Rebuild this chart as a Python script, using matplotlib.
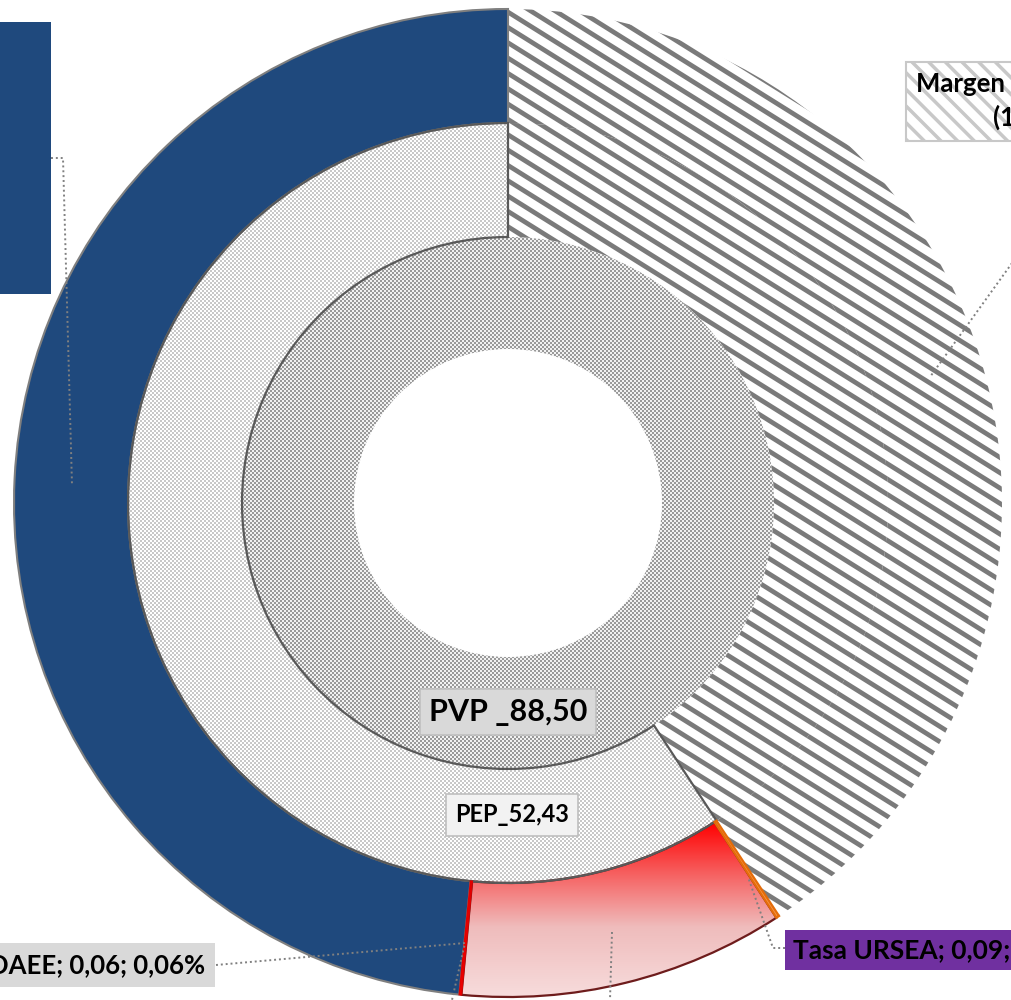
import numpy as np
import matplotlib
matplotlib.use("Agg")
import matplotlib.pyplot as plt
from matplotlib.collections import LineCollection
from matplotlib.colors import LinearSegmentedColormap, to_rgb
from matplotlib.patches import Rectangle

plt.rcParams["font.family"] = ["Lato", "DejaVu Sans"]
plt.rcParams["hatch.linewidth"] = 2.5

# --- datos ---
pvp = 88.50
pep = 52.43
inner_values = [pvp]
middle_values = [pvp - pep, pep]          # margen | PEP
outer_names = ["Margen", "Tasa URSEA", "Rojo", "DAEE", "Azul"]
outer_values = [36.07, 0.09, 9.42, 0.06, 42.86]
outer_faces = ["white", "#f79646", "none", "#ff0000", "#1f497d"]
outer_edges = ["#7f7f7f", "#e46c0a", "#6e1c1c", "#e00000", "#7f7f7f"]
outer_lw = [0, 1.6, 1.6, 1.2, 1.5]

pvp_label = "PVP _88,50"
pep_label = "PEP_52,43"
margen_label = "Margen distribuidores; 36,07;\n(1); 40,76% PVP"
ursea_label = "Tasa URSEA; 0,09; 0,10%"
daee_label = "DAEE; 0,06; 0,06%"

W, H = 1012, 1000
cx, cy = 508, H - 503
r_out, r_mid, r_in, r_hole = 494, 380, 266, 154


def py(y):
    # fila de pixel -> y de datos
    return H - y


fig = plt.figure(figsize=(W / 100, H / 100), dpi=100)
ax = fig.add_axes([0, 0, 1, 1])

pie_kw = dict(center=(cx, cy), startangle=90, counterclock=False)

# anillo interior (PVP)
w_in, _ = ax.pie(inner_values, radius=r_in,
                 wedgeprops=dict(width=r_in - r_hole, lw=0, fc="none"), **pie_kw)
# anillo medio (margen | PEP)
w_mid, _ = ax.pie(middle_values, radius=r_mid,
                  wedgeprops=dict(width=r_mid - r_in), **pie_kw)
w_mid[0].set(fc="white", ec="#7f7f7f", lw=0, zorder=1)
w_mid[1].set(fc="none", ec="#595959", lw=1.6, zorder=2.2)
# anillo exterior
w_out, _ = ax.pie(outer_values, radius=r_out,
                  wedgeprops=dict(width=r_out - r_mid), **pie_kw)
for w, fc, ec, lw in zip(w_out, outer_faces, outer_edges, outer_lw):
    w.set(fc=fc, ec=ec, lw=lw, zorder=2)
w_out[0].set(zorder=1)
w_out[1].set(zorder=2.4)
w_out[3].set(zorder=2.3)

# tramas tipo "cuadriculado"
yy, xx = np.mgrid[0:H, 0:W]
chk = ((yy // 2 + xx // 2) % 2) == 0


def checker(c1, c2):
    a = np.empty((H, W, 3))
    a[chk] = to_rgb(c1)
    a[~chk] = to_rgb(c2)
    return a


im = ax.imshow(checker("#9a9a9a", "#f2f2f2"), extent=(0, W, 0, H), origin="upper",
               interpolation="nearest", zorder=1.5)
im.set_clip_path(w_in[0])
im = ax.imshow(checker("#c8c8c8", "#ffffff"), extent=(0, W, 0, H), origin="upper",
               interpolation="nearest", zorder=1.5)
im.set_clip_path(w_mid[1])

# rayado diagonal del margen
ang = np.deg2rad(32)
d = np.array([np.cos(ang), -np.sin(ang)])
n = np.array([np.sin(ang), np.cos(ang)])
segs = [[s * n - 2500 * d, s * n + 2500 * d] for s in np.arange(-2000, 2000, 13.0)]
for w in (w_out[0], w_mid[0]):
    lc = LineCollection(segs, colors="#7a7a7a", linewidths=3.4, zorder=1.6)
    ax.add_collection(lc)
    lc.set_clip_path(w)

# degradado del tramo rojo
ext = w_out[2].get_path().get_extents()
rojo = LinearSegmentedColormap.from_list(
    "rojo", [(0, "#ff0000"), (0.3, "#f66262"), (0.6, "#efbcbc"), (1, "#f7dcdc")])
im = ax.imshow(np.linspace(0, 1, 256)[:, None], cmap=rojo, origin="upper", aspect="auto",
               extent=(ext.x0, ext.x1, ext.y0, ext.y1), interpolation="bilinear", zorder=1.5)
im.set_clip_path(w_out[2])

# lineas guia
lead = dict(color="#808080", lw=1.4, ls=(0, (1, 1.5)), zorder=3)
ax.plot([51, 63, 72], [py(158), py(158), py(485)], **lead)
ax.plot([216, 465, 452], [py(965), py(943), py(1000)], **lead)
ax.plot([785, 773, 748], [py(948), py(948), py(877)], **lead)
ax.plot([612, 610], [py(932), py(1000)], **lead)
ax.plot([1025, 930], [py(245), py(377)], **lead)

# etiquetas
ax.add_patch(Rectangle((-10, py(294)), 61, 272, fc="#1f497d", ec="none", zorder=4))
bold = dict(fontweight="bold", color="black", zorder=5)
ax.text(508, py(712), pvp_label, ha="center", va="center", fontsize=22,
        bbox=dict(boxstyle="square,pad=0.3", fc="#d9d9d9", ec="#bfbfbf", lw=1.2), **bold)
ax.text(512, py(815), pep_label, ha="center", va="center", fontsize=17,
        bbox=dict(boxstyle="square,pad=0.4", fc="#f2f2f2", ec="#bfbfbf", lw=1.2), **bold)
ax.text(916, py(101), margen_label, ha="left", va="center", multialignment="center",
        fontsize=18.5, linespacing=1.45,
        bbox=dict(boxstyle="square,pad=0.4", fc="white", ec="#c8c8c8", lw=1.5,
                  hatch="\\\\"), **bold)
ax.text(793, py(950), ursea_label, ha="left", va="center", fontsize=19,
        bbox=dict(boxstyle="square,pad=0.3", fc="#7030a0", ec="none"), **bold)
ax.text(205, py(965), daee_label, ha="right", va="center", fontsize=18.5,
        bbox=dict(boxstyle="square,pad=0.4", fc="#d9d9d9", ec="none"), **bold)

ax.set_xlim(0, W)
ax.set_ylim(0, H)
ax.axis("off")

fig.savefig("out.png", dpi=100, facecolor="white")
